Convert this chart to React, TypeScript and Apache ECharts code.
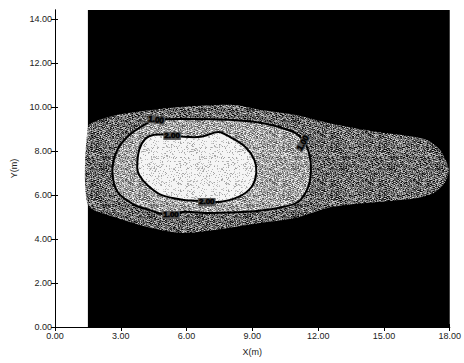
import React, { useEffect, useRef } from "react";
import * as echarts from "echarts";

// Axis ticks
const xLabelTicks = [0, 3, 6, 9, 12, 15, 18];
const yLabelTicks = [0, 2, 4, 6, 8, 10, 12, 14];
const frameTicks = [0, 2, 4, 6, 8, 10, 12, 14, 16, 18];

// Computed domain of the field (X, Y in m)
const fieldX: [number, number] = [1.5, 18];
const fieldY: [number, number] = [0, 14.4];

// Outer edge of the plume (lowest shaded level)
const plumeEdge: [number, number][] = [
  [1.5, 9.09], [2.04, 9.41], [2.85, 9.64], [4.39, 9.86], [5.88, 10.0],
  [8.14, 10.09], [9.41, 9.86], [10.95, 9.64], [12.44, 9.27], [14.7, 8.86],
  [15.74, 8.73], [16.96, 8.5], [17.55, 8.05], [17.87, 7.45], [17.96, 7.05],
  [17.77, 6.55], [17.28, 6.09], [16.51, 5.86], [15.74, 5.77], [14.25, 5.64],
  [12.44, 5.41], [10.95, 4.95], [9.41, 4.73], [7.92, 4.5], [5.88, 4.27],
  [4.39, 4.5], [2.85, 4.95], [1.5, 5.55],
];

// Contour level 1.00
const contour1: [number, number][] = [
  [2.62, 7.05], [2.8, 7.95], [3.3, 8.64], [4.07, 9.18], [4.61, 9.41],
  [6.11, 9.45], [7.91, 9.41], [9.41, 9.27], [10.18, 9.09], [10.95, 8.82],
  [11.4, 8.36], [11.62, 7.73], [11.67, 7.05], [11.53, 6.32], [11.08, 5.68],
  [10.18, 5.41], [8.68, 5.23], [7.01, 5.18], [5.88, 5.23], [5.11, 5.09],
  [4.3, 5.32], [3.62, 5.55], [2.85, 6.14],
];

// Contour level 2.00
const contour2: [number, number][] = [
  [3.75, 7.23], [3.84, 8.05], [4.12, 8.55], [4.52, 8.73], [5.2, 8.73],
  [5.88, 8.64], [6.65, 8.64], [7.46, 8.86], [8.05, 8.59], [8.68, 8.18],
  [9.09, 7.59], [9.18, 7.0], [8.96, 6.36], [8.37, 5.91], [7.46, 5.68],
  [6.56, 5.73], [5.88, 5.77], [4.84, 6.0], [4.21, 6.45], [3.84, 6.91],
];

// Level labels placed on the contour lines
const levelLabelX = [4.61, 5.34, 6.92, 5.29, 11.31];
const levelLabelY = [9.41, 8.68, 5.68, 5.09, 8.36];
const levelLabelText = ["1.00", "2.00", "2.00", "1.00", "1.00"];
const levelLabelAngle = [-8, 0, 0, 0, 60];

const fieldBox: [number, number][] = [
  [fieldX[0], fieldY[0]], [fieldX[1], fieldY[0]],
  [fieldX[1], fieldY[1]], [fieldX[0], fieldY[1]],
];

// Grain shading per band (grey levels 0..1): mean, spread, diagonal streak strength
const bandShades = [
  { mean: 0.42, spread: 0.34, streak: 0.1 },
  { mean: 0.64, spread: 0.3, streak: 0.08 },
  { mean: 0.92, spread: 0.16, streak: 0.03 },
];

const FONT = "'Liberation Sans', Arial, sans-serif";

// Builds a small tile of diagonal, grainy shading used as a pattern fill
function makeGrain(mean: number, spread: number, streak: number): HTMLCanvasElement {
  const size = 48;
  const c = document.createElement("canvas");
  c.width = size;
  c.height = size;
  const ctx = c.getContext("2d")!;
  const img = ctx.createImageData(size, size);
  for (let y = 0; y < size; y++) {
    for (let x = 0; x < size; x++) {
      const h = Math.sin(x * 12.9898 + y * 78.233) * 43758.5453;
      const grain = h - Math.floor(h);
      const s = (x + 3 * y) % 6 < 3 ? streak : -streak;
      let v = mean + spread * (grain - 0.5) * 2 + s;
      if (mean > 0.85) v = grain < 0.2 ? 0.62 + grain : 0.96;
      v = Math.max(0, Math.min(1, v));
      const g = Math.round(v * 255);
      const k = (y * size + x) * 4;
      img.data[k] = g;
      img.data[k + 1] = g;
      img.data[k + 2] = g;
      img.data[k + 3] = 255;
    }
  }
  ctx.putImageData(img, 0, 0);
  return c;
}

export default function App() {
  const ref = useRef<HTMLDivElement>(null);
  useEffect(() => {
    if (!ref.current) return;
    const chart = echarts.init(ref.current, null, { renderer: "svg" });
    const fills = bandShades.map((b) => ({
      image: makeGrain(b.mean, b.spread, b.streak),
      repeat: "repeat",
    }));
    const layers = [
      { pts: fieldBox, fill: "#000000" as any, stroke: null as string | null, smooth: 0 },
      { pts: plumeEdge, fill: fills[0], stroke: null, smooth: 0.25 },
      { pts: contour1, fill: fills[1], stroke: "#000000", smooth: 0.3 },
      { pts: contour2, fill: fills[2], stroke: "#000000", smooth: 0.3 },
    ];
    const axisCommon = {
      axisLine: { show: true, lineStyle: { color: "#000", width: 1 } },
      splitLine: { show: false },
    };
    chart.setOption({
      animation: false,
      backgroundColor: "#fff",
      grid: { left: 55, right: 11, top: 10, bottom: 36 },
      xAxis: [
        {
          type: "value", min: 0, max: 18, interval: 3, position: "bottom",
          ...axisCommon,
          axisTick: { show: true, length: 4, customValues: xLabelTicks, lineStyle: { color: "#000" } },
          axisLabel: {
            fontSize: 9, color: "#222", fontFamily: FONT, margin: 4,
            customValues: xLabelTicks,
            formatter: (v: number) => v.toFixed(2),
          },
          name: "X(m)", nameLocation: "middle", nameGap: 20,
          nameTextStyle: { fontSize: 9, color: "#222", fontFamily: FONT },
        },
        {
          type: "value", min: 0, max: 18, interval: 2, position: "top",
          ...axisCommon,
          axisTick: { show: true, length: 3, customValues: frameTicks, lineStyle: { color: "#000" } },
          axisLabel: { show: false },
        },
      ],
      yAxis: [
        {
          type: "value", min: 0, max: 14.4, interval: 2, position: "left",
          ...axisCommon,
          axisTick: { show: true, length: 4, customValues: yLabelTicks, lineStyle: { color: "#000" } },
          axisLabel: {
            fontSize: 9, color: "#222", fontFamily: FONT, margin: 3,
            customValues: yLabelTicks,
            formatter: (v: number) => v.toFixed(2),
          },
          name: "Y(m)", nameLocation: "middle", nameGap: 36, nameRotate: 90,
          nameTextStyle: { fontSize: 9, color: "#222", fontFamily: FONT },
        },
        {
          type: "value", min: 0, max: 14.4, interval: 2, position: "right",
          ...axisCommon,
          axisTick: { show: true, length: 3, customValues: yLabelTicks, lineStyle: { color: "#000" } },
          axisLabel: { show: false },
        },
      ],
      series: [
        {
          type: "custom",
          xAxisIndex: 0, yAxisIndex: 0,
          clip: true,
          data: layers.map((_, i) => i),
          renderItem: (params: any, api: any) => {
            const layer = layers[params.dataIndex];
            const points = layer.pts.map((p) => api.coord(p));
            return {
              type: "polygon",
              shape: { points, smooth: layer.smooth },
              style: {
                fill: layer.fill,
                stroke: layer.stroke,
                lineWidth: 2,
              },
            };
          },
          z: 1,
        },
        {
          type: "custom",
          xAxisIndex: 0, yAxisIndex: 0,
          data: levelLabelX.map((x, i) => [x, levelLabelY[i]]),
          renderItem: (params: any, api: any) => {
            const i = params.dataIndex;
            const [cx, cy] = api.coord([api.value(0), api.value(1)]);
            return {
              type: "text",
              x: cx,
              y: cy,
              rotation: (levelLabelAngle[i] * Math.PI) / 180,
              style: {
                text: levelLabelText[i],
                x: 0,
                y: 0,
                align: "center",
                verticalAlign: "middle",
                fill: "#000",
                font: `bold 8px ${FONT}`,
                stroke: "#000",
                lineWidth: 0.6,
                backgroundColor: "#555555",
                padding: [0, 1],
              },
            };
          },
          z: 5,
        },
      ],
    });
    return () => chart.dispose();
  }, []);
  return (
    <div
      ref={ref}
      style={{ position: "fixed", left: 0, top: 0, width: 464, height: 363 }}
    />
  );
}
